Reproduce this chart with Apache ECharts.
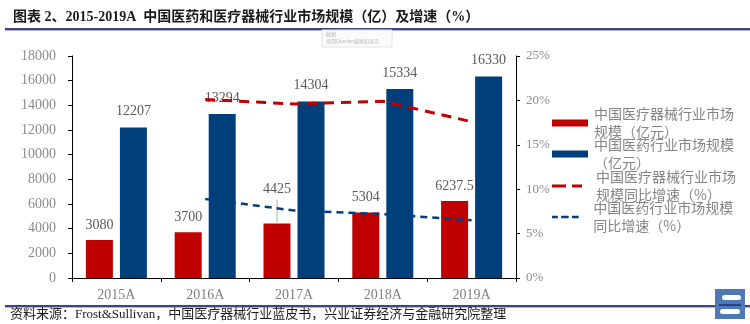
<!DOCTYPE html>
<html>
<head>
<meta charset="utf-8">
<script src="https://cdn.jsdelivr.net/npm/echarts@6/dist/echarts.min.js"></script>
<style>
  html, body { margin: 0; padding: 0; background: #fff; }
  #chart { width: 750px; height: 324px; }
</style>
</head>
<body>
<div id="chart"></div>
<script>
// Market size (亿元) and year-on-year growth (%), 2015A–2019A
const years = ['2015A', '2016A', '2017A', '2018A', '2019A'];
const deviceSize = [3080, 3700, 4425, 5304, 6237.5];
const pharmaSize = [12207, 13294, 14304, 15334, 16330];
const deviceGrowth = [null, 20.1, 19.6, 19.9, 17.6];
const pharmaGrowth = [null, 8.9, 7.6, 7.2, 6.5];

const leftTicks = { min: 0, max: 18000, interval: 2000 };
const rightTicks = { min: 0, max: 25, interval: 5 };

const seriesNames = [
  '中国医疗器械行业市场规模（亿元）',
  '中国医药行业市场规模（亿元）',
  '中国医疗器械行业市场规模同比增速（%）',
  '中国医药行业市场规模同比增速（%）'
];
const legendLines = {
  [seriesNames[0]]: '中国医疗器械行业市场\n规模（亿元）',
  [seriesNames[1]]: '中国医药行业市场规模\n（亿元）',
  [seriesNames[2]]: '中国医疗器械行业市场\n规模同比增速（%）',
  [seriesNames[3]]: '中国医药行业市场规模\n同比增速（%）'
};

const RED = '#c00000';
const BLUE = '#003f7a';
const SERIF = "'Liberation Serif', 'Noto Sans CJK SC', serif";
const CJK = "'Noto Sans CJK SC', sans-serif";

// legend keys: solid blocks for bars, dashed strokes for the growth lines
const legendIcons = [
  'rect',
  'rect',
  'path://M0,0h14v3h-14z M20,0h10v3h-10z',
  'path://M0,0h7v3h-7z M11,0h9v3h-9z M24,0h8v3h-8z'
];
const legendWidths = [36, 36, 30, 32];
const legendHeights = [7, 7, 3, 2.5];
const legendTextShift = [1, 1, 9, 7];

const chart = echarts.init(document.getElementById('chart'), null, { renderer: 'canvas' });

const legendTop = [123, 154, 186, 217];
const legends = seriesNames.map((name, i) => ({
  orient: 'vertical',
  left: 552,
  top: legendTop[i] - 27,
  padding: 0,
  itemGap: 0,
  itemWidth: legendWidths[i],
  itemHeight: legendHeights[i],
  icon: legendIcons[i],
  selectedMode: false,
  data: [name],
  formatter: n => legendLines[n],
  textStyle: {
    fontFamily: CJK,
    fontSize: 14,
    lineHeight: 18,
    color: '#858585',
    padding: [18, 0, 0, legendTextShift[i]]
  }
}));

// the 2017A device label is lifted and tied to its bar by a thin leader
const LIFTED = 2;
const deviceData = deviceSize.map((v, i) =>
  i === LIFTED ? { value: v, label: { distance: 0 } } : v);

const option = {
  animation: false,
  backgroundColor: '#ffffff',
  title: {
    text: '图表 2、2015-2019A  中国医药和医疗器械行业市场规模（亿）及增速（%）',
    left: 8,
    top: 5,
    textStyle: { fontFamily: SERIF, fontWeight: 'bold', fontSize: 14, color: '#1a1a1a' }
  },
  legend: legends,
  grid: { left: 72, right: 234, top: 56, bottom: 46, containLabel: false },
  xAxis: {
    type: 'category',
    data: years,
    boundaryGap: true,
    axisLine: { show: true, lineStyle: { color: '#000', width: 1 } },
    axisTick: { show: true, length: 4, lineStyle: { color: '#000' } },
    axisLabel: { margin: 10, color: '#7f7f7f', fontSize: 14, fontFamily: SERIF }
  },
  yAxis: [
    {
      type: 'value',
      min: leftTicks.min, max: leftTicks.max, interval: leftTicks.interval,
      axisLine: { show: true, lineStyle: { color: '#000', width: 1 } },
      axisTick: { show: true, length: 4, lineStyle: { color: '#000' } },
      splitLine: { show: false },
      axisLabel: {
        margin: 16, color: '#8c8c8c', fontSize: 14, fontFamily: SERIF,
        formatter: v => String(v)
      }
    },
    {
      type: 'value',
      position: 'right',
      min: rightTicks.min, max: rightTicks.max, interval: rightTicks.interval,
      axisLine: { show: true, lineStyle: { color: '#000', width: 1 } },
      axisTick: { show: true, length: 4, lineStyle: { color: '#000' } },
      splitLine: { show: false },
      axisLabel: { margin: 10, color: '#8c8c8c', fontSize: 13, fontFamily: SERIF, formatter: '{value}%' }
    }
  ],
  series: [
    {
      name: seriesNames[0],
      type: 'bar',
      data: deviceData,
      barWidth: 27,
      barGap: '26%',
      itemStyle: { color: RED },
      label: {
        show: true, position: 'top', distance: 5,
        formatter: p => (p.dataIndex === LIFTED ? `{v|${p.value}}\n{l|}` : `{v|${p.value}}`),
        rich: {
          v: { color: '#595959', fontSize: 14, fontFamily: SERIF, lineHeight: 16, padding: [0, 0, 4, 0] },
          l: { width: 1, height: 24, backgroundColor: '#b0b0b0' }
        }
      }
    },
    {
      name: seriesNames[1],
      type: 'bar',
      data: pharmaSize,
      barWidth: 27,
      itemStyle: { color: BLUE },
      label: { show: true, position: 'top', distance: 9, color: '#595959', fontSize: 14, fontFamily: SERIF }
    },
    {
      name: seriesNames[2],
      type: 'line',
      yAxisIndex: 1,
      data: deviceGrowth,
      symbol: 'none',
      itemStyle: { color: RED },
      lineStyle: { color: RED, width: 3, type: [10, 7] }
    },
    {
      name: seriesNames[3],
      type: 'line',
      yAxisIndex: 1,
      data: pharmaGrowth,
      symbol: 'none',
      itemStyle: { color: BLUE },
      lineStyle: { color: BLUE, width: 2.5, type: [7, 5] }
    }
  ],
  graphic: [
    // rule under the heading
    { type: 'rect', shape: { x: 5, y: 28, width: 745, height: 2 }, style: { fill: '#3d4680' }, silent: true },
    { type: 'rect', shape: { x: 5, y: 30, width: 745, height: 1 }, style: { fill: '#aab0cc' }, silent: true },
    // screenshot-tool note box
    { type: 'rect', shape: { x: 322, y: 30, width: 70, height: 17 }, style: { fill: '#fbfbfb', stroke: '#e4e4e4', lineWidth: 1 }, silent: true },
    { type: 'text', x: 326, y: 32, style: { text: '截图', fontSize: 5, fill: '#b8b8b8', fontFamily: CJK }, silent: true },
    { type: 'text', x: 326, y: 39, style: { text: '使用Quicker截图和显示', fontSize: 5, fill: '#b8b8b8', fontFamily: CJK }, silent: true },
    // rule above the source line
    { type: 'rect', shape: { x: 5, y: 305, width: 745, height: 2 }, style: { fill: '#3d4680' }, silent: true },
    { type: 'rect', shape: { x: 5, y: 307, width: 745, height: 1 }, style: { fill: '#b4b9d2' }, silent: true },
    {
      type: 'text', x: 10, y: 308,
      style: {
        text: '资料来源：Frost&Sullivan，中国医疗器械行业蓝皮书，兴业证券经济与金融研究院整理',
        fontSize: 13, fill: '#1a1a1a', fontFamily: SERIF
      },
      silent: true
    },
    // corner badge
    { type: 'rect', shape: { x: 715, y: 289, width: 30, height: 30 }, style: { fill: '#4f79b5' }, silent: true },
    { type: 'rect', shape: { x: 722, y: 295, width: 19, height: 5, r: 2.5 }, style: { fill: '#ffffff' }, silent: true },
    { type: 'rect', shape: { x: 719, y: 304, width: 22, height: 2 }, style: { fill: '#2b3f86' }, silent: true },
    { type: 'rect', shape: { x: 720, y: 309, width: 20, height: 5, r: 2.5 }, style: { fill: '#ffffff' }, silent: true }
  ]
};

chart.setOption(option);
</script>
</body>
</html>
